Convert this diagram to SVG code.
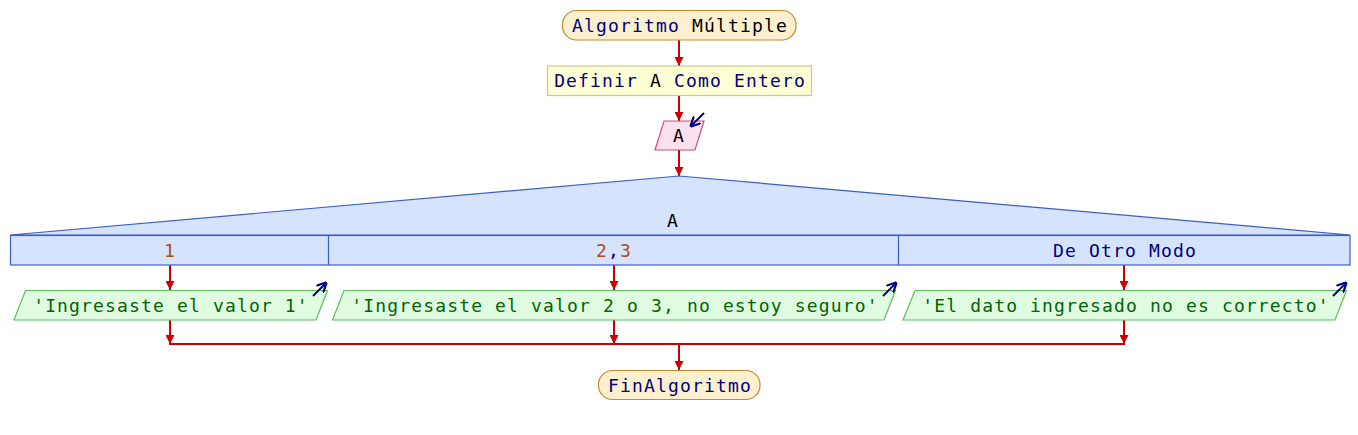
<svg xmlns="http://www.w3.org/2000/svg" width="1358" height="435" viewBox="0 0 1358 435">
<defs>
<marker id="ar" viewBox="0 0 10 10" refX="10" refY="5" markerWidth="4.5" markerHeight="4.5" orient="auto" markerUnits="strokeWidth">
<path d="M0,0 L10,5 L0,10 z" fill="#cc0000"/>
</marker>
<marker id="an" viewBox="0 0 10 10" refX="9" refY="5" markerWidth="5" markerHeight="5" orient="auto" markerUnits="strokeWidth">
<path d="M0,0 L10,5 L0,10" fill="none" stroke="#000080" stroke-width="2.2"/>
</marker>
<style>
text{font-family:"DejaVu Sans Mono","Liberation Mono",monospace;font-size:18px;letter-spacing:1.15px;text-anchor:middle}
.kw{fill:#000080}
.var{fill:#000000}
.str{fill:#006400}
.num{fill:#a84c24}
.term{fill:#fdf0cf;stroke:#c48a2c;stroke-width:1.2}
.proc{fill:#ffffd6;stroke:#c9c98a;stroke-width:1.2}
.inp{fill:#fce0ee;stroke:#c8507c;stroke-width:1.2}
.sw{fill:#d5e3fc;stroke:#3c5ec6;stroke-width:1.2}
.out{fill:#e0fce0;stroke:#5cbf5c;stroke-width:1.2}
.flow{stroke:#cc0000;stroke-width:2;fill:none}
.flowa{stroke:#cc0000;stroke-width:2;fill:none;marker-end:url(#ar)}
.io{stroke:#000080;stroke-width:2;fill:none;marker-end:url(#an)}
</style>
</defs>
<g id="connectors">
<line class="flowa" x1="679" y1="40" x2="679" y2="66"/>
<line class="flowa" x1="679" y1="95" x2="679" y2="121"/>
<line class="flowa" x1="679" y1="150" x2="679" y2="176"/>
<line class="flowa" x1="170" y1="265" x2="170" y2="290"/>
<line class="flowa" x1="614" y1="265" x2="614" y2="290"/>
<line class="flowa" x1="1124" y1="265" x2="1124" y2="290"/>
<line class="flowa" x1="170" y1="320" x2="170" y2="344"/>
<line class="flowa" x1="614" y1="320" x2="614" y2="344"/>
<line class="flowa" x1="1124" y1="320" x2="1124" y2="344"/>
<line class="flow" x1="169" y1="344" x2="1125" y2="344"/>
<line class="flowa" x1="679" y1="344" x2="679" y2="370"/>
</g>
<g id="start">
<rect class="term" x="562.5" y="10.5" width="233.5" height="29.5" rx="14" ry="14"/>
<text x="680" y="31.5"><tspan class="kw">Algoritmo</tspan><tspan class="var"> Múltiple</tspan></text>
</g>
<g id="define">
<rect class="proc" x="547.5" y="66" width="264" height="29.5"/>
<text x="680" y="86.5"><tspan class="kw">Definir</tspan><tspan class="var"> A</tspan><tspan class="kw"> Como Entero</tspan></text>
</g>
<g id="read">
<polygon class="inp" points="664,121 704,121 695,150 655,150"/>
<text class="var" x="679" y="142">A</text>
<line class="io" x1="704" y1="113" x2="691" y2="126"/>
</g>
<g id="switch">
<polygon class="sw" points="679,176 1350,235 10,235"/>
<text class="var" x="673" y="227">A</text>
<rect class="sw" x="10.5" y="235.5" width="1339.5" height="29.5"/>
<line x1="328.5" y1="235.5" x2="328.5" y2="265" stroke="#3c5ec6" stroke-width="1.2"/>
<line x1="898.5" y1="235.5" x2="898.5" y2="265" stroke="#3c5ec6" stroke-width="1.2"/>
<text class="num" x="170" y="256.5">1</text>
<text x="614" y="256.5"><tspan class="num">2</tspan><tspan class="kw">,</tspan><tspan class="num">3</tspan></text>
<text class="kw" x="1125" y="256.5">De Otro Modo</text>
</g>
<g id="out1">
<polygon class="out" points="25.5,290.5 327.5,290.5 316,320 14,320"/>
<text class="str" x="171" y="311.5">'Ingresaste el valor 1'</text>
<line class="io" x1="313" y1="296" x2="326" y2="283"/>
</g>
<g id="out2">
<polygon class="out" points="344,290.5 895.5,290.5 884,320 332.5,320"/>
<text class="str" x="615" y="311.5">'Ingresaste el valor 2 o 3, no estoy seguro'</text>
<line class="io" x1="883" y1="296" x2="896" y2="283"/>
</g>
<g id="out3">
<polygon class="out" points="915,290.5 1346.5,290.5 1335,320 903,320"/>
<text class="str" x="1126" y="311.5">'El dato ingresado no es correcto'</text>
<line class="io" x1="1333" y1="296" x2="1346" y2="283"/>
</g>
<g id="end">
<rect class="term" x="598.5" y="370.5" width="161.5" height="29" rx="14" ry="14"/>
<text class="kw" x="680" y="391.5">FinAlgoritmo</text>
</g>
</svg>
